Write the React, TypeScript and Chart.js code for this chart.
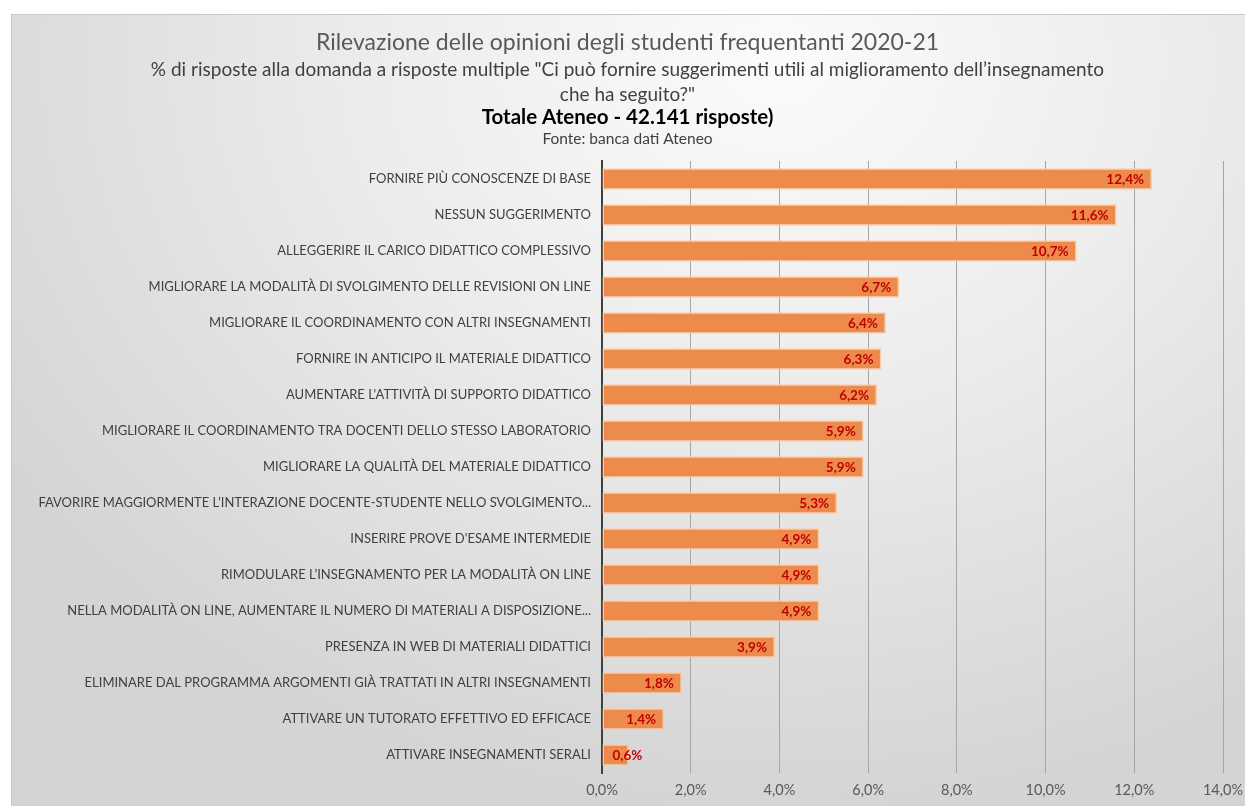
import React, { useEffect, useRef } from "react";
import { Chart, registerables } from "chart.js";

Chart.register(...registerables);

const categories: string[] = [
  "FORNIRE PIÙ CONOSCENZE DI BASE",
  "NESSUN SUGGERIMENTO",
  "ALLEGGERIRE IL CARICO DIDATTICO COMPLESSIVO",
  "MIGLIORARE LA MODALITÀ DI SVOLGIMENTO DELLE REVISIONI ON LINE",
  "MIGLIORARE IL COORDINAMENTO CON ALTRI INSEGNAMENTI",
  "FORNIRE IN ANTICIPO IL MATERIALE DIDATTICO",
  "AUMENTARE L'ATTIVITÀ DI SUPPORTO DIDATTICO",
  "MIGLIORARE IL COORDINAMENTO TRA DOCENTI DELLO STESSO LABORATORIO",
  "MIGLIORARE LA QUALITÀ DEL MATERIALE DIDATTICO",
  "FAVORIRE MAGGIORMENTE L’INTERAZIONE DOCENTE-STUDENTE NELLO SVOLGIMENTO...",
  "INSERIRE PROVE D'ESAME INTERMEDIE",
  "RIMODULARE L’INSEGNAMENTO PER LA MODALITÀ ON LINE",
  "NELLA MODALITÀ ON LINE, AUMENTARE IL NUMERO DI MATERIALI A DISPOSIZIONE...",
  "PRESENZA IN WEB DI MATERIALI DIDATTICI",
  "ELIMINARE DAL PROGRAMMA ARGOMENTI GIÀ TRATTATI IN ALTRI INSEGNAMENTI",
  "ATTIVARE UN TUTORATO EFFETTIVO ED EFFICACE",
  "ATTIVARE INSEGNAMENTI SERALI",
];

const percentages: number[] = [
  12.4, 11.6, 10.7, 6.7, 6.4, 6.3, 6.2, 5.9, 5.9, 5.3, 4.9, 4.9, 4.9, 3.9, 1.8, 1.4, 0.6,
];

const titleLine1 = "Rilevazione delle opinioni degli studenti frequentanti 2020-21";
const titleLine2 =
  "% di risposte alla domanda a risposte multiple \"Ci può fornire suggerimenti utili al miglioramento dell’insegnamento";
const titleLine3 = "che ha seguito?\"";
const titleLine4 = "Totale Ateneo - 42.141 risposte)";
const titleLine5 = "Fonte: banca dati Ateneo";

const axisMin = 0;
const axisMax = 14;
const axisStep = 2;

const FONT = "Lato, 'Open Sans', sans-serif";

const fmtPct = (v: number) => v.toFixed(1).replace(".", ",") + "%";

const titlesPlugin = {
  id: "titlesPlugin",
  afterDraw(chart: any) {
    const ctx = chart.ctx;
    const cx = chart.width / 2 - 1;
    const lines = [
      { t: titleLine1, y: 28, font: `23px ${FONT}`, c: "#595959" },
      { t: titleLine2, y: 55, font: `19px ${FONT}`, c: "#404040" },
      { t: titleLine3, y: 80, font: `19px ${FONT}`, c: "#404040" },
      { t: titleLine4, y: 102, font: `bold 20.5px ${FONT}`, c: "#000000" },
      { t: titleLine5, y: 124, font: `15.5px ${FONT}`, c: "#404040" },
    ];
    ctx.save();
    ctx.textAlign = "center";
    ctx.textBaseline = "middle";
    for (const l of lines) {
      ctx.font = l.font;
      ctx.fillStyle = l.c;
      ctx.fillText(l.t, cx, l.y);
    }
    ctx.restore();
  },
};

const dataLabelPlugin = {
  id: "dataLabelPlugin",
  afterDatasetsDraw(chart: any) {
    const ctx = chart.ctx;
    const meta = chart.getDatasetMeta(0);
    const data = chart.data.datasets[0].data as number[];
    ctx.save();
    ctx.font = `bold 13.5px ${FONT}`;
    ctx.fillStyle = "#C00000";
    ctx.textAlign = "left";
    ctx.textBaseline = "middle";
    meta.data.forEach((bar: any, i: number) => {
      const text = fmtPct(data[i]);
      const w = ctx.measureText(text).width;
      const tx = Math.max(bar.x - 8 - w, bar.base + 10);
      ctx.fillText(text, tx, bar.y + 1);
    });
    ctx.restore();
  },
};

export default function App() {
  const canvasRef = useRef<HTMLCanvasElement | null>(null);

  useEffect(() => {
    if (!canvasRef.current) return;
    const chart = new Chart(canvasRef.current, {
      type: "bar",
      data: {
        labels: categories,
        datasets: [
          {
            data: percentages,
            backgroundColor: "#ED8B4C",
            borderColor: "#F9CBA6",
            borderWidth: 1.5,
            borderSkipped: false,
            barPercentage: 0.6,
            categoryPercentage: 1,
          },
        ],
      },
      options: {
        indexAxis: "y",
        animation: false,
        responsive: false,
        maintainAspectRatio: false,
        layout: { padding: { top: 146, right: 22, left: 0, bottom: 0 } },
        plugins: {
          legend: { display: false },
          title: { display: false },
          tooltip: { enabled: false },
        },
        scales: {
          x: {
            min: axisMin,
            max: axisMax,
            ticks: {
              stepSize: axisStep,
              callback: (v: any) => fmtPct(Number(v)),
              color: "#595959",
              font: { family: FONT, size: 14.5 },
              padding: 9,
            },
            grid: { color: "#a6a6a6", lineWidth: 1, drawTicks: false },
            border: { display: false },
            afterFit: (scale: any) => {
              scale.height = 33;
              scale.paddingLeft = 0;
              scale.paddingRight = 0;
            },
          },
          y: {
            ticks: {
              color: "#404040",
              font: { family: FONT, size: 13 },
              padding: 11,
              autoSkip: false,
            },
            grid: { display: false, drawTicks: false },
            border: { display: true, color: "#404040", width: 2 },
            afterFit: (scale: any) => {
              scale.width = 590;
            },
          },
        },
      },
      plugins: [titlesPlugin, dataLabelPlugin],
    } as any);
    return () => chart.destroy();
  }, []);

  return (
    <div
      style={{
        position: "absolute",
        left: 11,
        top: 14,
        width: 1234,
        height: 792,
        borderTop: "1px solid #c8c8c8",
        borderLeft: "1px solid #c8c8c8",
        boxSizing: "border-box",
        background:
          "radial-gradient(ellipse 75% 95% at 62% 6%, #fbfbfb 0%, #ececec 45%, #d4d4d4 100%)",
      }}
    >
      <canvas ref={canvasRef} width={1233} height={791} style={{ display: "block" }} />
    </div>
  );
}
